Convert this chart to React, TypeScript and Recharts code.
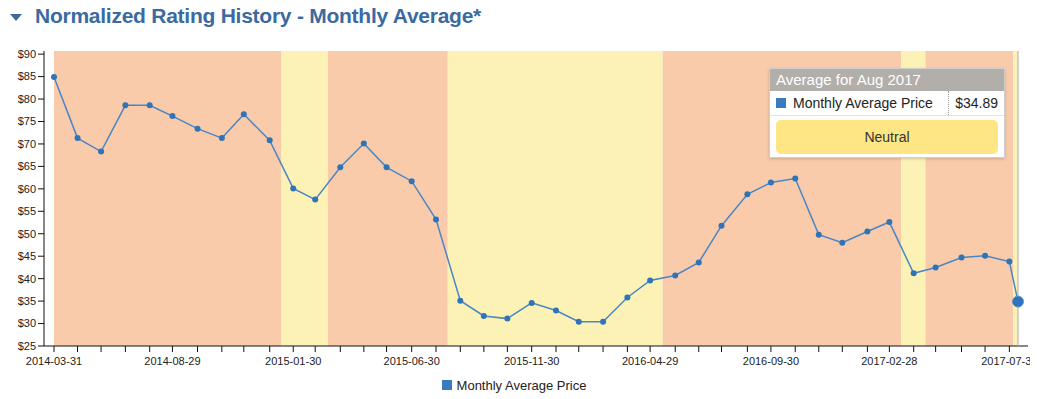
import {
    LineChart,
    Line,
    XAxis,
    YAxis,
    Tooltip,
    Legend,
    ReferenceArea,
} from 'recharts';

// monthly average, last trading day of each month (last one is the running month)
const dates = [
    '2014-03-31', '2014-04-30', '2014-05-30', '2014-06-30', '2014-07-31', '2014-08-29',
    '2014-09-30', '2014-10-31', '2014-11-28', '2014-12-31', '2015-01-30', '2015-02-27',
    '2015-03-31', '2015-04-30', '2015-05-29', '2015-06-30', '2015-07-31', '2015-08-31',
    '2015-09-30', '2015-10-30', '2015-11-30', '2015-12-31', '2016-01-29', '2016-02-29',
    '2016-03-31', '2016-04-29', '2016-05-31', '2016-06-30', '2016-07-29', '2016-08-31',
    '2016-09-30', '2016-10-31', '2016-11-30', '2016-12-30', '2017-01-31', '2017-02-28',
    '2017-03-31', '2017-04-28', '2017-05-31', '2017-06-30', '2017-07-31', '2017-08-11',
];

const prices = [
    84.9, 71.3, 68.3, 78.6, 78.6, 76.2, 73.4, 71.3, 76.6, 70.8, 60.1, 57.6,
    64.8, 70.1, 64.8, 61.7, 53.2, 35.1, 31.7, 31.1, 34.6, 32.9, 30.4, 30.4,
    35.8, 39.6, 40.7, 43.6, 51.8, 58.8, 61.4, 62.3, 49.8, 48.0, 50.5, 52.6,
    41.2, 42.5, 44.7, 45.1, 43.8, 34.89,
];

const labeledDates = [
    '2014-03-31', '2014-08-29', '2015-01-30', '2015-06-30', '2015-11-30',
    '2016-04-29', '2016-09-30', '2017-02-28', '2017-07-31',
];

const yTicks = [25, 30, 35, 40, 45, 50, 55, 60, 65, 70, 75, 80, 85, 90];

// rating periods behind the line
const bandStarts = [
    '2014-03-31', '2015-01-15', '2015-03-15', '2015-08-15',
    '2016-05-15', '2017-03-15', '2017-04-15', '2017-08-05',
];
const bandEnds = [
    '2015-01-15', '2015-03-15', '2015-08-15', '2016-05-15',
    '2017-03-15', '2017-04-15', '2017-08-05', '2017-08-11',
];
const bandRatings = [
    'Underperform', 'Neutral', 'Underperform', 'Neutral',
    'Underperform', 'Neutral', 'Underperform', 'Neutral',
];

const RATING_FILL: Record<string, string> = {
    Underperform: '#f9cbaa',
    Neutral: '#fdf2b5',
};
const RATING_BADGE: Record<string, string> = {
    Underperform: '#f7b88e',
    Neutral: '#fde683',
};

const MONTHS = ['Jan', 'Feb', 'Mar', 'Apr', 'May', 'Jun', 'Jul', 'Aug', 'Sep', 'Oct', 'Nov', 'Dec'];
const BLUE = '#3a7bbf';
const FONT = '"Liberation Sans", Arial, Helvetica, sans-serif';

const ts = (d: string) => new Date(d).getTime();

const data = dates.map((d, i) => ({ t: ts(d), price: prices[i] }));
const labelSet = new Set(labeledDates.map(ts));
const xTicks = dates.slice(0, -1).map(ts);

const ratingAt = (t: number) => {
    let r = bandRatings[0];
    bandStarts.forEach((s, i) => {
        if (t >= ts(s) && t <= ts(bandEnds[i])) r = bandRatings[i];
    });
    return r;
};

const fmtDate = (t: number) => {
    if (!labelSet.has(t)) return '';
    return new Date(t).toISOString().slice(0, 10);
};

interface TipProps {
    active?: boolean;
    payload?: { payload: { t: number; price: number } }[];
}

const RatingTooltip = ({ active, payload }: TipProps) => {
    if (!active || !payload || !payload.length) return null;
    const p = payload[0].payload;
    const d = new Date(p.t);
    const rating = ratingAt(p.t);
    return (
        <div
            style={{
                width: 234,
                background: '#fff',
                border: '1px solid #cfcfcf',
                boxShadow: '0 1px 3px rgba(0,0,0,0.18)',
                fontFamily: FONT,
                color: '#222',
            }}
        >
            <div
                style={{
                    background: '#b2aeaa',
                    color: '#fff',
                    fontSize: 15,
                    height: 22,
                    lineHeight: '22px',
                    paddingLeft: 6,
                }}
            >
                Average for {MONTHS[d.getUTCMonth()]} {d.getUTCFullYear()}
            </div>
            <div
                style={{
                    display: 'flex',
                    alignItems: 'center',
                    height: 24,
                    fontSize: 14,
                    borderBottom: '1px solid #e4e4e4',
                }}
            >
                <span
                    style={{ width: 10, height: 10, background: BLUE, marginLeft: 6, marginRight: 7 }}
                />
                <span style={{ flex: 1 }}>Monthly Average Price</span>
                <span
                    style={{
                        borderLeft: '1px dotted #999',
                        height: 24,
                        lineHeight: '24px',
                        paddingLeft: 6,
                        paddingRight: 6,
                    }}
                >
                    ${p.price.toFixed(2)}
                </span>
            </div>
            <div style={{ padding: '4px 6px 3px 6px' }}>
                <div
                    style={{
                        background: RATING_BADGE[rating],
                        borderRadius: 5,
                        height: 34,
                        lineHeight: '34px',
                        textAlign: 'center',
                        fontSize: 14,
                        color: '#333',
                    }}
                >
                    {rating}
                </div>
            </div>
        </div>
    );
};

const LegendContent = () => (
    <div
        style={{
            display: 'flex',
            justifyContent: 'center',
            alignItems: 'center',
            height: 18,
            fontFamily: FONT,
            fontSize: 13,
            color: '#222',
        }}
    >
        <span style={{ width: 10, height: 10, background: BLUE, marginRight: 5 }} />
        Monthly Average Price
    </div>
);

export default function App() {
    return (
        <div
            style={{
                position: 'absolute',
                left: 0,
                top: 0,
                width: 1040,
                height: 399,
                background: '#fff',
                overflow: 'hidden',
            }}
        >
            <LineChart
                width={1030}
                height={399}
                data={data}
                margin={{ top: 51, right: 2, left: 0, bottom: 5 }}
            >
                {bandStarts.map((s, i) => (
                    <ReferenceArea
                        key={s}
                        x1={ts(s)}
                        x2={ts(bandEnds[i])}
                        y1={25}
                        y2={90.7}
                        fill={RATING_FILL[bandRatings[i]]}
                        fillOpacity={1}
                        stroke="none"
                    />
                ))}
                <XAxis
                    dataKey="t"
                    type="number"
                    domain={['dataMin', 'dataMax']}
                    padding={{ left: 10, right: 10 }}
                    ticks={xTicks}
                    interval={0}
                    tickFormatter={fmtDate}
                    height={30}
                    tickSize={6}
                    tickMargin={5}
                    stroke="#111"
                    tick={{ fill: '#222', fontSize: 11, fontFamily: FONT }}
                />
                <YAxis
                    type="number"
                    domain={[25, 90.7]}
                    ticks={yTicks}
                    interval={0}
                    allowDataOverflow
                    width={44}
                    tickSize={6}
                    tickMargin={2}
                    stroke="#111"
                    tick={{ fill: '#222', fontSize: 11, fontFamily: FONT }}
                    tickFormatter={(v: number) => `$${v}`}
                />
                <Tooltip
                    content={<RatingTooltip />}
                    defaultIndex={41}
                    active
                    position={{ x: 769, y: 68 }}
                    cursor={{ stroke: '#aaa', strokeWidth: 1 }}
                    isAnimationActive={false}
                />
                <Legend verticalAlign="bottom" height={18} content={<LegendContent />} />
                <Line
                    type="linear"
                    dataKey="price"
                    name="Monthly Average Price"
                    stroke="#4a86c5"
                    strokeWidth={1.5}
                    dot={{ r: 3, fill: '#2f74b8', stroke: '#2f74b8', strokeWidth: 0 }}
                    activeDot={{ r: 5.5, fill: '#2f74b8', stroke: '#5b95cf', strokeWidth: 1 }}
                    isAnimationActive={false}
                />
            </LineChart>
            <div
                style={{
                    position: 'absolute',
                    left: 10,
                    top: 3,
                    display: 'flex',
                    alignItems: 'center',
                    fontFamily: FONT,
                    fontWeight: 'bold',
                    fontSize: 21,
                    letterSpacing: -0.25,
                    lineHeight: '26px',
                    color: '#3b6aa0',
                    zIndex: 2,
                }}
            >
                <span
                    style={{
                        width: 0,
                        height: 0,
                        borderLeft: '6px solid transparent',
                        borderRight: '6px solid transparent',
                        borderTop: '7px solid #3b6aa0',
                        marginRight: 13,
                        marginTop: 2,
                    }}
                />
                Normalized Rating History - Monthly Average*
            </div>
        </div>
    );
}
